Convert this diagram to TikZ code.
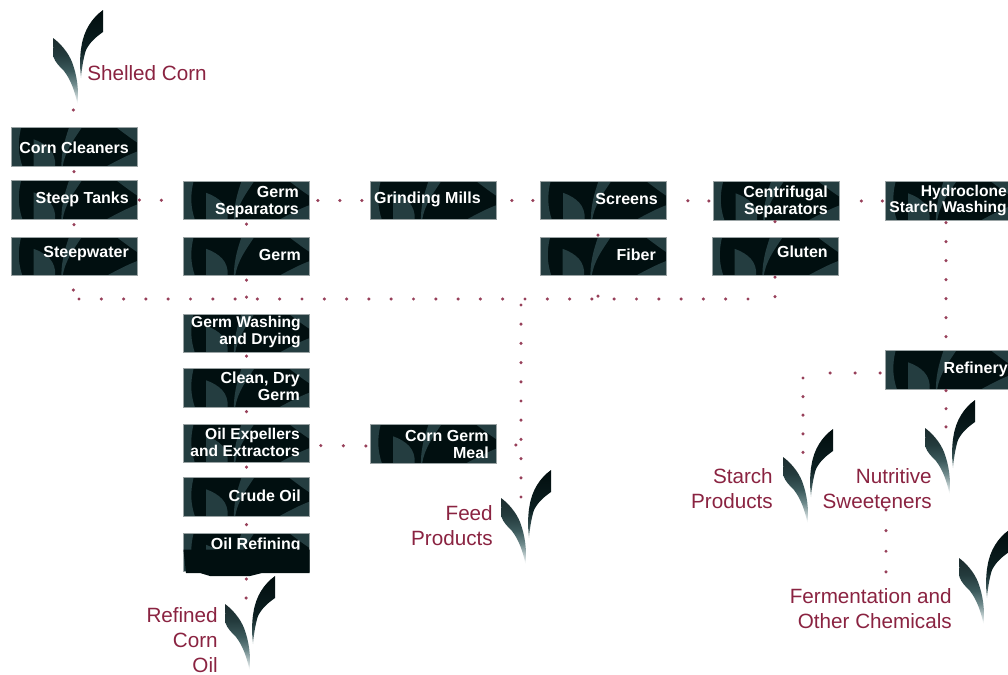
\documentclass[tikz,border=0pt]{standalone}
\usepackage{fontspec}
\setmainfont{Liberation Sans}
\usetikzlibrary{calc}
\definecolor{plateink}{HTML}{010F10}
\definecolor{plateleaf}{HTML}{243D40}
\definecolor{platerim}{HTML}{9AA3A4}
\definecolor{dotred}{HTML}{97405A}
\definecolor{labelred}{HTML}{8A2341}
\definecolor{lla}{HTML}{B9C8C9}
\definecolor{llb}{HTML}{6F8A8C}
\definecolor{llc}{HTML}{3C5A5C}
\definecolor{lld}{HTML}{243B3D}
\definecolor{lle}{HTML}{1B2B2D}
\definecolor{lra}{HTML}{B0C0C0}
\definecolor{lrb}{HTML}{3B5557}
\definecolor{lrc}{HTML}{0C2022}
\definecolor{lrd}{HTML}{020D0E}
\def\pxu{0.75pt}
\pgfdeclareverticalshading{leafleft}{100bp}{color(0bp)=(white); color(25bp)=(white); color(32bp)=(lla); color(40bp)=(llb); color(50bp)=(llc); color(62bp)=(lld); color(75bp)=(lle); color(100bp)=(lle)}
\pgfdeclareverticalshading{leafright}{100bp}{color(0bp)=(lra); color(25bp)=(lra); color(33bp)=(lrb); color(45bp)=(lrc); color(75bp)=(lrd); color(100bp)=(lrd)}
\tikzset{
  x=0.75pt,y=-0.75pt,
  platebox/.style={rectangle,draw=platerim,line width=.5pt,minimum width=94.5pt,minimum height=28.8pt,inner sep=0pt},
  platetext/.style={anchor=east,align=right,inner sep=0pt,text=white,font=\fontsize{12}{12.75}\selectfont\bfseries},
  tag/.style={align=right,inner sep=0pt,text=labelred,font=\fontsize{15.5}{18.75}\selectfont},
  dotrun/.style 2 args={draw=dotred,line width=2.6pt,line cap=round,
    dash pattern=on 0pt off #1*\pxu,shorten <=#2*\pxu},
  sprout/.pic={
    \shade[shading=leafleft,draw=none]
      (53,38) .. controls (60,43) and (68,52) .. (72,62) .. controls (77,75) and (79,90) .. (77.5,104)
      .. controls (75,92) and (71,80) .. (64,71) .. controls (60,67) and (55,62) .. (53.5,57) -- cycle;
    \shade[shading=leafright,draw=none]
      (103,10) -- (103,32) .. controls (96,37) and (90,42) .. (86,50) .. controls (84,56) and (82,66) .. (81,78)
      .. controls (79.5,66) and (80,54) .. (81.5,46) .. controls (84,30) and (92,18) .. (103,10) -- cycle;
  }
}
% plate art, frame node, and text node: [text options]{name}{cx}{cy}{text right}{text mid y}{text}
\newcommand\platenode[7][]{%
  \begin{scope}[shift={(#3-63,#4-19.2)},x=0.945pt,y=-0.288pt]
    \fill[plateink] (0,0) rectangle (100,100);
    \clip (0,0) rectangle (100,100);
    \fill[plateleaf] (0,0) -- (8,0) .. controls (5,40) and (6,70) .. (9,100) -- (0,100) -- cycle;
    \fill[plateleaf] (18,30) .. controls (28,42) and (36,62) .. (35,100) -- (18,100) -- cycle;
    \fill[plateleaf] (40,100) .. controls (40,55) and (44,20) .. (46,0) -- (56,0) .. controls (50,30) and (43,60) .. (41,100) -- cycle;
    \fill[plateleaf] (76,100) .. controls (84,86) and (92,72) .. (100,62) -- (100,100) -- cycle;
    \fill[plateleaf] (84,0) .. controls (89,12) and (94,25) .. (100,38) -- (100,0) -- cycle;
  \end{scope}
  \node[platebox] (#2) at (#3,#4) {};
  \node[platetext,#1] (#2-text) at (#5,#6) {#7};
}
\begin{document}
\begin{tikzpicture}
\useasboundingbox (0,0) rectangle (1008,675);
\clip (0,0) rectangle (1008,675);
% sprouts
\pic at (0,0) {sprout};
\pic at (172,566) {sprout};
\pic at (448,460) {sprout};
\pic at (730,419) {sprout};
\pic at (872,390) {sprout};
\pic at (906,520) {sprout};
% plates
\platenode{cleaners}{74}{147}{129}{148}{Corn Cleaners}
\platenode{steep}{74}{200}{129}{199}{Steep Tanks}
\platenode{steepwater}{74}{256.5}{129}{254}{Steepwater}
\platenode{germsep}{246.5}{200.5}{299}{202}{Germ\\Separators}
\platenode{germ}{246.5}{256.5}{301}{255}{Germ}
\platenode[font=\fontsize{11.7}{12.75}\selectfont\bfseries]{washing}{246.5}{333.5}{301}{332}{Germ Washing\\and Drying}
\platenode{cleangerm}{246.5}{388}{300}{386.5}{Clean, Dry\\Germ}
\platenode[font=\fontsize{11.7}{12.75}\selectfont\bfseries]{expellers}{246.5}{443.5}{300}{442}{Oil Expellers\\and Extractors}
\platenode{crude}{246.5}{497}{301}{496}{Crude Oil}
\platenode{refining}{246.5}{552.5}{301}{545}{Oil Refining}
\fill[plateink] (183.5,549.5) -- (309.5,549.5) -- (309.5,573) -- (262,573) -- (250,576) -- (210,576) -- (200,573) -- (186,573) -- cycle;
\platenode{mills}{433.5}{200.5}{481}{199}{Grinding Mills}
\platenode{meal}{433.5}{444}{489}{444.5}{Corn Germ\\Meal}
\platenode{screens}{603.5}{200.5}{658}{198.5}{Screens}
\platenode{fiber}{603}{256.5}{656}{254.5}{Fiber}
\platenode{centrifugal}{776}{201}{828}{201.5}{Centrifugal\\Separators}
\platenode{gluten}{775}{256.5}{828}{251.5}{Gluten}
\platenode[font=\fontsize{11.7}{12}\selectfont\bfseries]{hydro}{948.5}{201}{1007}{200}{Hydroclone\\Starch Washing}
\platenode{refinery}{948.5}{370}{1008}{369.5}{Refinery}
% labels
\node[tag,anchor=west] (shelled) at (87,73) {Shelled Corn};
\node[tag,anchor=east] (oil) at (218,640) {Refined\\Corn\\Oil};
\node[tag,anchor=east] (feed) at (493,525.5) {Feed\\Products};
\node[tag,anchor=east] (starch) at (773,489) {Starch\\Products};
\node[tag,anchor=east] (nutritive) at (932,488.5) {Nutritive\\Sweeteners};
\node[tag,anchor=east] (ferment) at (952,608.5) {Fermentation and\\Other Chemicals};
% free ends
\coordinate (leaftop) at (73,103);
\coordinate (oilleaf) at (246,602);
\coordinate (feedleaf) at (521,500);
\coordinate (starchleaf) at (803,455);
\coordinate (sweetleaf) at (946,430);
\coordinate (busstart) at (79,299);
\coordinate (busend) at (770,299);
\coordinate (busA) at (73,296);
\coordinate (busF) at (598,299);
\coordinate (busG) at (775,299);
\coordinate (feedtop) at (521,305);
\coordinate (feedjoin) at (521,445);
\coordinate (corner) at (807,373);
\coordinate (cornerdown) at (803,378);
\coordinate (hydrocol) at (946,0);
\coordinate (fermcol) at (886,0);
% main connectors
\draw[dotrun={30}{7}] (leaftop) -- (cleaners.north);
\draw[dotrun={40}{5}] (cleaners.south) -- (steep.north);
\draw[dotrun={40}{5}] (steep.south) -- (steepwater.north);
\draw[dotrun={40}{14}] (steepwater.south) -- (busA);
\draw[dotrun={22.3}{0}] (busstart) -- (busend);
\draw[dotrun={22}{2}] (steep.east) -- (germsep.west);
\draw[dotrun={22}{8}] (germsep.east) -- (mills.west);
\draw[dotrun={21}{15}] (mills.east) -- (screens.west);
\draw[dotrun={21}{21}] (screens.east) -- (centrifugal.west);
\draw[dotrun={21}{22}] (centrifugal.east) -- (hydro.west);
\draw[dotrun={40}{4}] (germsep.south) -- (germ.north);
\draw[dotrun={17}{4}] (germ.south) -- (washing.north);
\draw[dotrun={40}{3}] (washing.south) -- (cleangerm.north);
\draw[dotrun={40}{4}] (cleangerm.south) -- (expellers.north);
\draw[dotrun={40}{4}] (expellers.south) -- (crude.north);
\draw[dotrun={40}{8}] (crude.south) -- (refining.north);
\draw[dotrun={19}{7}] (refining.south) -- (oilleaf);
\draw[dotrun={22.5}{11}] ($(expellers.east)+(0,2)$) -- ($(meal.west)+(0,2)$);
\draw[dotrun={40}{19}] ($(meal.east)+(0,1)$) -- (feedjoin);
\draw[dotrun={40}{15}] (screens.south -| busF) -- (fiber.north -| busF);
\draw[dotrun={40}{20}] (fiber.south -| busF) -- (busF);
\draw[dotrun={40}{1}] (centrifugal.south -| gluten) -- (gluten.north);
\draw[dotrun={19.5}{1}] (gluten.south) -- (busG);
\draw[dotrun={19.2}{0}] (feedtop) -- (feedleaf);
\draw[dotrun={19}{2}] (hydro.south -| hydrocol) -- (refinery.north -| hydrocol);
\draw[dotrun={18.2}{1}] (refinery.south -| hydrocol) -- (sweetleaf);
\draw[dotrun={25}{5}] ($(refinery.west)+(0,3)$) -- (corner);
\draw[dotrun={18.6}{0}] (cornerdown) -- (starchleaf);
\draw[dotrun={20.7}{1}] (nutritive.south -| fermcol) -- (ferment.north -| fermcol);
\end{tikzpicture}
\end{document}
